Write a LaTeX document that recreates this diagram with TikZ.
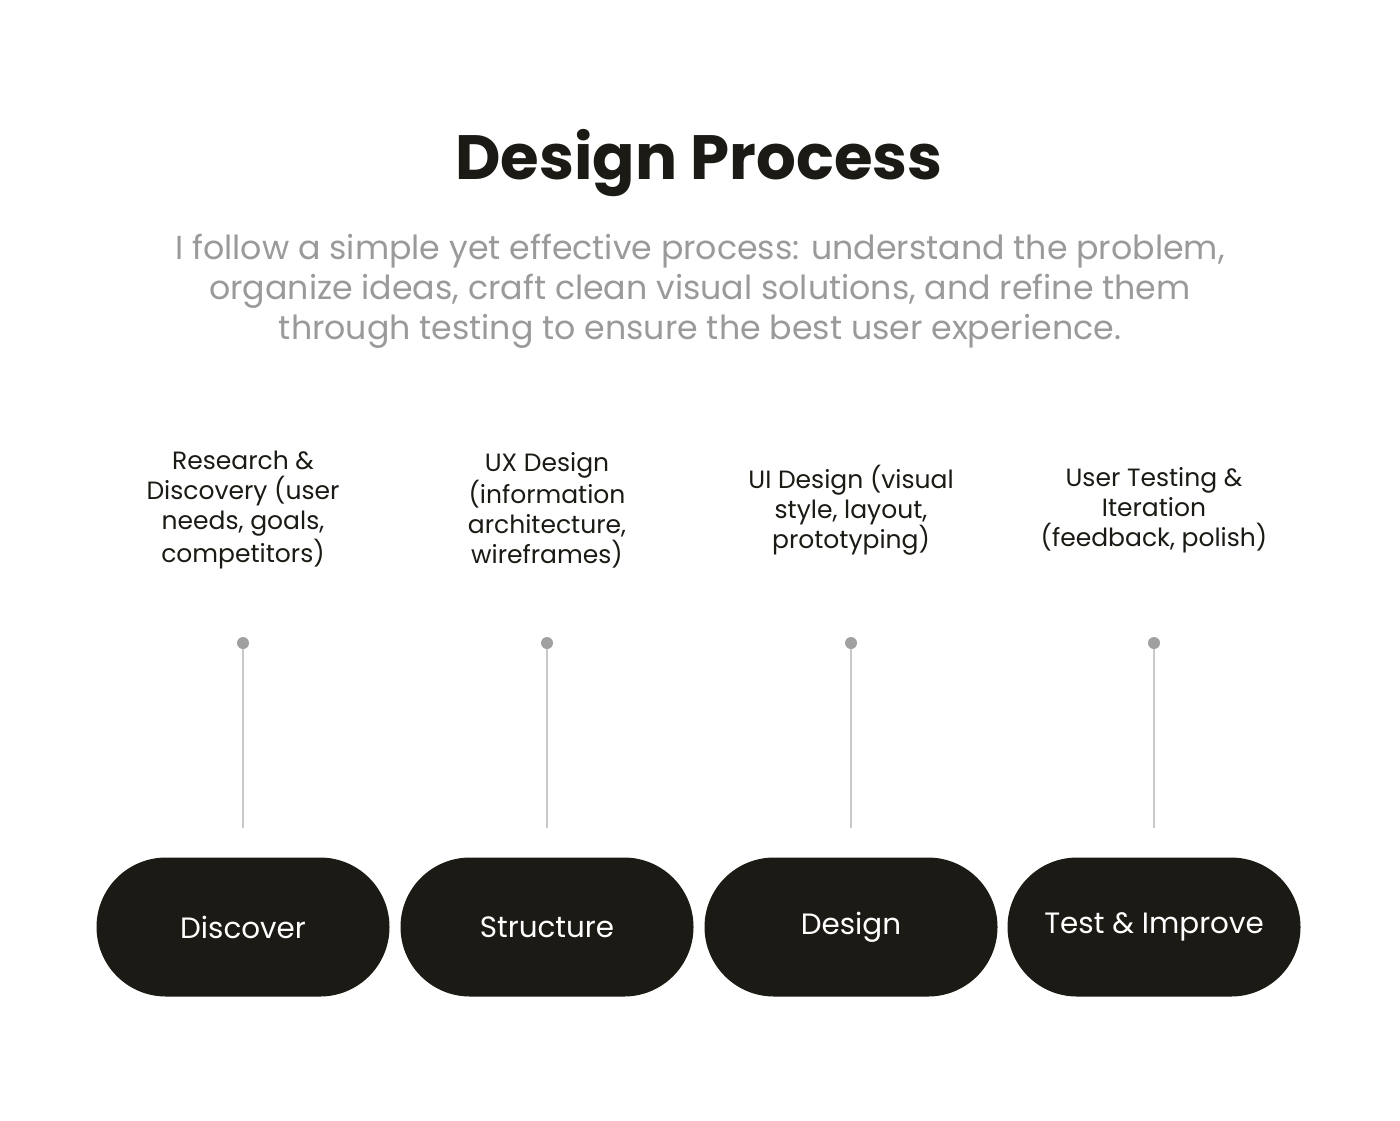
\documentclass[tikz,border=0pt]{standalone}
\usepackage{fontspec}
\setmainfont{Poppins}
\usetikzlibrary{shapes.misc}
\definecolor{pillblack}{HTML}{1C1A14}
\definecolor{introgray}{HTML}{9A9A9A}
\definecolor{stemgray}{HTML}{C8C8C8}
\definecolor{dotgray}{HTML}{A0A0A0}
\tikzstyle{pill}=[%
	rounded rectangle, fill=pillblack, text=white,
	minimum width=146.5pt, minimum height=69.5pt, inner sep=0pt,
	font=\fontsize{14.7}{18}\selectfont
]
\tikzstyle{phase}=[%
	align=center, text=pillblack, inner sep=0pt,
	font=\fontsize{12.5}{15}\selectfont
]
\tikzstyle{dot}=[circle, fill=dotgray, inner sep=0pt, minimum size=6pt]
\tikzstyle{stem}=[stemgray, line width=1pt]

\begin{document}
\begin{tikzpicture}[x=0.5pt, y=-0.5pt]
	% Background, frame
	\fill[white] (0,0) rectangle (1400,1120);
	\useasboundingbox (0,0) rectangle (1400,1120);

	% Heading
	\node[text=pillblack, font=\fontsize{31.3}{38}\selectfont\bfseries] (title) at (699,163) {Design Process};
	\node[align=center, text=introgray, font=\fontsize{16.6}{20}\selectfont] (intro) at (700,291)
		{I follow a simple yet effective process: understand the problem,\\
		organize ideas, craft clean visual solutions, and refine them\\
		through testing to ensure the best user experience.};

	% Steps
	\foreach \i/\x/\name/\txt in {%
		1/243/Discover/{Research \&\\Discovery (user\\needs, goals,\\competitors)},
		2/547/Structure/{UX Design\\(information\\architecture,\\wireframes)},
		3/851/Design/{UI Design (visual\\style, layout,\\prototyping)},
		4/1154/Test \& Improve/{User Testing \&\\Iteration\\(feedback, polish)}} {
		\node[pill] (pill\i) at (\x,927) {\name};
		\node[phase] (phase\i) at (\x,510) {\txt};
		\node[dot] (dot\i) at (\x,643) {};
		\draw[stem] (dot\i) -- ([yshift=14.5pt]pill\i.north);
	}

\end{tikzpicture}
\end{document}
